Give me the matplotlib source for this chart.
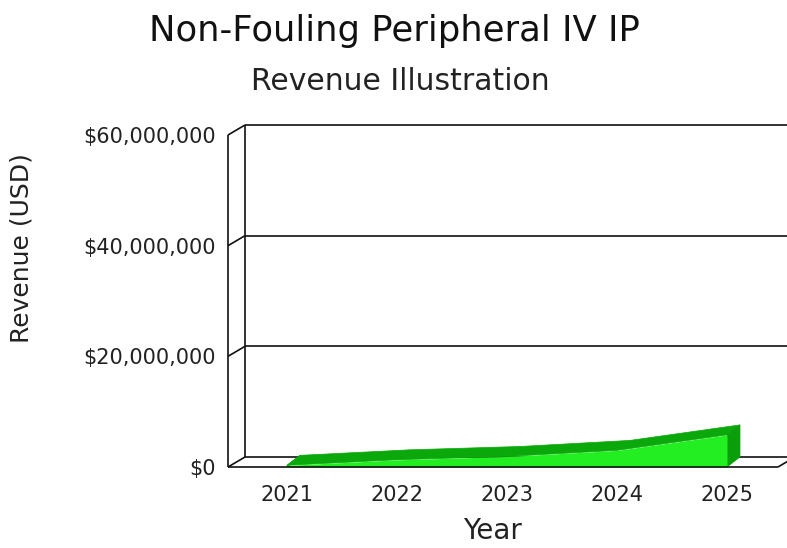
import matplotlib
matplotlib.use("Agg")
import matplotlib.pyplot as plt
from matplotlib.patches import Polygon

# ---- data ----
years = [2021, 2022, 2023, 2024, 2025]
revenue = [300000, 1300000, 1900000, 3000000, 5800000]
yticks = [0, 20000000, 40000000, 60000000]
ytick_labels = ["$0", "$20,000,000", "$40,000,000", "$60,000,000"]
title = "Non-Fouling Peripheral IV IP"
subtitle = "Revenue Illustration"
xlabel = "Year"
ylabel = "Revenue (USD)"

W, H = 787, 548
fig = plt.figure(figsize=(W / 100, H / 100), dpi=100)
plt.rcParams['font.family'] = ['DejaVu Sans']

# front plane in pixels
L, R, T, B = 228, 778, 135, 467
ax = fig.add_axes([L / W, (H - B) / H, (R - L) / W, (B - T) / H])
px_per_year = 110.0
x0 = years[0] - (287 - L) / px_per_year
x1 = x0 + (R - L) / px_per_year
ymax = 60000000
ax.set_xlim(x0, x1)
ax.set_ylim(0, ymax)
for s in ax.spines.values():
    s.set_visible(False)
ax.patch.set_visible(False)

# pixel -> data conversions
ux = 1.0 / px_per_year
uy = ymax / (B - T)
DX, DY = 17 * ux, 10 * uy  # wall depth

lc = "#111111"
lw = 1.2
kw = dict(color=lc, lw=lw, clip_on=False, solid_capstyle='butt')
# back wall
for yv in yticks[1:]:
    ax.plot([x0 + DX, x1 + DX + 2], [yv + DY, yv + DY], zorder=1, **kw)
    ax.plot([x0, x0 + DX], [yv, yv + DY], zorder=1, **kw)
ax.plot([x0 + DX, x0 + DX], [DY, ymax + DY], zorder=1, **kw)
ax.plot([x0 + DX, x1 + DX + 2], [DY, DY], zorder=1, **kw)
# front edges
ax.plot([x0, x0], [0, ymax], zorder=5, **kw)
ax.plot([x0, x1], [0, 0], zorder=5, **kw)
ax.plot([x0, x0 + DX], [0, DY], zorder=5, **kw)
ax.plot([x1, x1 + DX], [0, DY], zorder=5, **kw)

# 3D area
adx, ady = 13 * ux, 10 * uy
front_c, top_c, side_c = "#22ee22", "#0aa80a", "#0a9e0a"
for i in range(len(years) - 1):
    poly = [(years[i], revenue[i]), (years[i + 1], revenue[i + 1]),
            (years[i + 1] + adx, revenue[i + 1] + ady), (years[i] + adx, revenue[i] + ady)]
    ax.add_patch(Polygon(poly, closed=True, fc=top_c, ec=top_c, lw=0.5, zorder=2, clip_on=False))
# left slanted start
ax.add_patch(Polygon([(years[0], 0), (years[0] + adx, ady), (years[0] + adx, revenue[0] + ady),
                      (years[0], revenue[0])], closed=True, fc=top_c, ec=top_c, lw=0.5, zorder=2, clip_on=False))
ax.add_patch(Polygon([(years[-1], 0), (years[-1] + adx, ady), (years[-1] + adx, revenue[-1] + ady),
                      (years[-1], revenue[-1])], closed=True, fc=side_c, ec=side_c, lw=0.5, zorder=2, clip_on=False))
ax.fill_between(years, 0, revenue, color=front_c, lw=0, zorder=3)

ax.set_yticks(yticks)
ax.set_yticklabels(ytick_labels)
ax.set_xticks(years)
ax.set_xticklabels([str(y) for y in years])
ax.tick_params(axis='both', length=0, labelsize=15, colors='#222222')
ax.tick_params(axis='y', pad=9)
ax.tick_params(axis='x', pad=13)

fig.text(22 / W, 1 - 248 / H, ylabel, rotation=90, ha='center', va='center', fontsize=18, color='#222222')
fig.text(492 / W, 1 - 531 / H, xlabel, ha='center', va='center', fontsize=20, color='#222222')
fig.text(394 / W, 1 - 31 / H, title, ha='center', va='center', fontsize=25.5, color='#111111')
fig.text(400 / W, 1 - 82 / H, subtitle, ha='center', va='center', fontsize=21.5, color='#222222')

fig.savefig("out.png", dpi=100, facecolor='white')
